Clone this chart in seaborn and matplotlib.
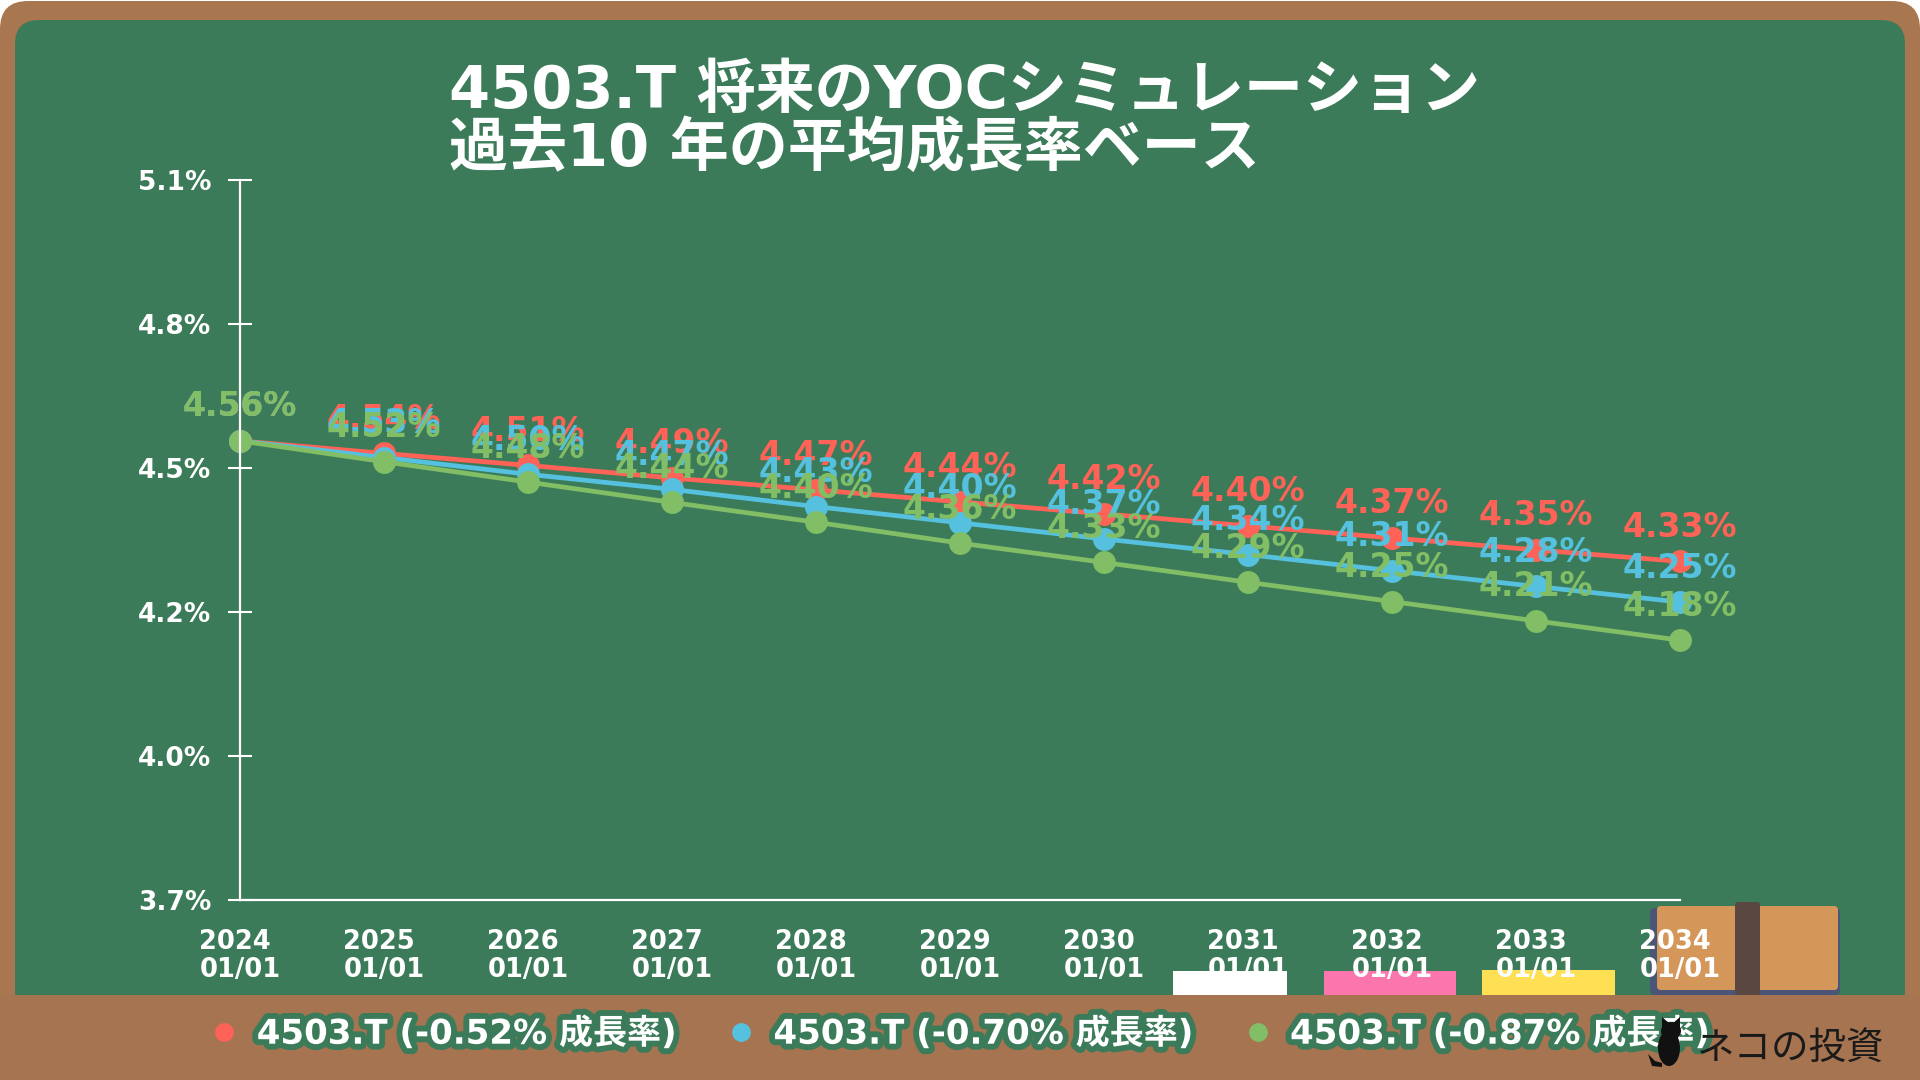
import matplotlib
matplotlib.use('Agg')
import matplotlib.pyplot as plt
import matplotlib.patheffects as pe
from matplotlib.lines import Line2D
from matplotlib.patches import Rectangle, FancyBboxPatch, Ellipse, Polygon
from matplotlib.transforms import Affine2D
import numpy as np
import pandas as pd
import seaborn as sns

years = [2024, 2025, 2026, 2027, 2028, 2029, 2030, 2031, 2032, 2033, 2034]
yoc_052 = [4.56, 4.536, 4.513, 4.489, 4.466, 4.443, 4.420, 4.397, 4.374, 4.351, 4.329]
yoc_070 = [4.56, 4.528, 4.496, 4.467, 4.434, 4.403, 4.372, 4.342, 4.311, 4.281, 4.251]
yoc_087 = [4.56, 4.520, 4.481, 4.442, 4.404, 4.364, 4.327, 4.289, 4.252, 4.215, 4.178]
series_names = ['4503.T (-0.52% 成長率)', '4503.T (-0.70% 成長率)', '4503.T (-0.87% 成長率)']
series_colors = ['#FF6257', '#55C1DF', '#82BE66']
title = '4503.T 将来のYOCシミュレーション\n過去10 年の平均成長率ベース'

BOARD = '#3B7B59'
FRAME = '#A8764F'
FONTS = ['DejaVu Sans', 'Noto Sans CJK JP']

sns.set_theme(style='ticks')
plt.rcParams['font.family'] = FONTS

df = pd.DataFrame({
    'year': years * 3,
    'yoc': yoc_052 + yoc_070 + yoc_087,
    'series': np.repeat(series_names, len(years)),
})

fig = plt.figure(figsize=(19.2, 10.8), dpi=100, facecolor='white')
ax = fig.add_axes([240 / 1920, 1 - 900 / 1080, 1440 / 1920, 720 / 1080])
ax.patch.set_alpha(0)

# pixel coordinates with the origin at the top left, for the decoration
px = Affine2D().scale(1, -1).translate(0, 1080)


def deco(patch, z=-1):
    patch.set_transform(px)
    patch.set_zorder(z)
    fig.add_artist(patch)


def rounded(x, y, w, h, r, color):
    return FancyBboxPatch((x, y), w, h, boxstyle=f'round,pad=0,rounding_size={r}', fc=color, ec='none')


# blackboard and its wooden frame
deco(rounded(0, 1, 1920, 1100, 28, FRAME), -5)
deco(rounded(15, 20, 1890, 1000, 24, BOARD), -4)
deco(Rectangle((0, 995), 1920, 85, fc='#A67450', ec='none'), -3)

# chalk, erasers and book on the ledge
deco(Rectangle((1173, 971), 114, 24, fc='white', ec='none'))
deco(Rectangle((1324, 971), 132, 24, fc='#FB76AC', ec='none'))
deco(Rectangle((1482, 970), 133, 25, fc='#FFE055', ec='none'))
deco(rounded(1650, 908, 190, 87, 5, '#4A5578'))
deco(rounded(1657, 906, 181, 84, 4, '#D59659'))
deco(rounded(1735, 902, 25, 93, 3, '#5A4741'))

sns.lineplot(data=df, x='year', y='yoc', hue='series', hue_order=series_names,
             palette=series_colors, marker='o', markersize=16.5, markeredgewidth=0,
             linewidth=3.4, legend=False, ax=ax, clip_on=False)

for values, color in zip([yoc_052, yoc_070, yoc_087], series_colors):
    for year, value in zip(years, values):
        ax.annotate(f'{value:.2f}%', (year, value), xytext=(0, 24.5), textcoords='offset points',
                    ha='center', va='center', color=color, fontsize=23.8, fontweight='bold',
                    annotation_clip=False, zorder=5)

ax.set_xlim(2024, 2034)
ax.set_ylim(3.68, 5.06)
ax.set_xticks(years, [f'{y}\n01/01' for y in years])
ax.set_yticks(np.linspace(3.68, 5.06, 6))
ax.yaxis.set_major_formatter(lambda v, pos: f'{v:.1f}%')
ax.set_xlabel('')
ax.set_ylabel('')
sns.despine(ax=ax)
for side in ['left', 'bottom']:
    ax.spines[side].set_color('white')
    ax.spines[side].set_linewidth(1.6)
ax.tick_params(axis='y', direction='inout', length=17.3, width=1.5, color='white',
               labelcolor='white', labelsize=19, pad=12)
ax.tick_params(axis='x', length=0, labelcolor='white', labelsize=18.5, pad=21)
for lab in ax.get_yticklabels() + ax.get_xticklabels():
    lab.set_fontweight('bold')
for lab in ax.get_xticklabels():
    lab.set_linespacing(1.1)
    lab.set_multialignment('left')

fig.text(449 / 1920, 1 - 120 / 1080, title, ha='left', va='center', color='white',
         fontsize=42.5, fontweight='bold', linespacing=1.02)

handles = [Line2D([], [], linestyle='none', marker='o', markersize=13.5, markeredgewidth=0, color=c)
           for c in series_colors]
leg = ax.legend(handles, series_names, ncol=3, frameon=False, loc='center',
                bbox_to_anchor=(962 / 1920, 1 - 1034 / 1080), bbox_transform=fig.transFigure,
                fontsize=24.5, handlelength=0.6, handletextpad=0.65, columnspacing=1.6,
                borderpad=0, borderaxespad=0)
for t in leg.get_texts():
    t.set_color('white')
    t.set_fontweight('bold')
    t.set_path_effects([pe.withStroke(linewidth=8.5, foreground=BOARD)])

# cat and signature over the legend
CAT = '#111111'
deco(Ellipse((1669, 1048), 22, 36, fc=CAT, ec='none'), 6)
deco(Ellipse((1671, 1031), 20, 18, fc=CAT, ec='none'), 6)
deco(Polygon([(1662, 1029), (1662, 1017), (1670, 1024)], fc=CAT, ec='none'), 6)
deco(Polygon([(1680, 1029), (1680, 1017), (1672, 1024)], fc=CAT, ec='none'), 6)
deco(Polygon([(1648, 1054), (1652, 1066), (1662, 1067), (1662, 1063), (1655, 1061)], fc=CAT, ec='none'), 6)
fig.text(1696 / 1920, 1 - 1048 / 1080, 'ネコの投資', ha='left', va='center', color='#1a1a1a',
         fontsize=27, family=['Noto Sans CJK JP', 'DejaVu Sans'], zorder=6)

fig.savefig('out.png', dpi=100)
